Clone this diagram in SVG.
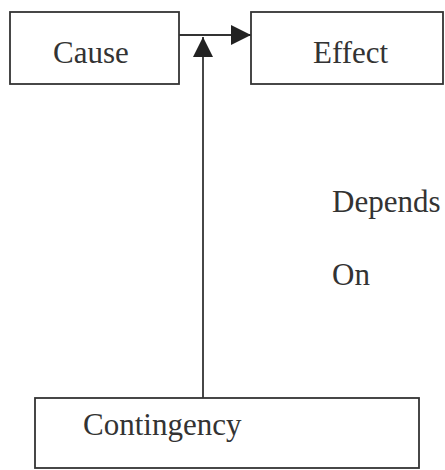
<svg xmlns="http://www.w3.org/2000/svg" width="445" height="470" viewBox="0 0 445 470">
<style>
.box{fill:#fff;stroke:#333;stroke-width:1.8}
.t{font-family:"Liberation Serif","Times New Roman",serif;font-size:31px;fill:#333}
.ln{stroke:#333;stroke-width:1.8;fill:none}
</style>
<defs>
<marker id="ah" viewBox="0 0 20 20" refX="20" refY="10" markerWidth="20" markerHeight="20" markerUnits="userSpaceOnUse" orient="auto">
<path d="M0,0 L20,10 L0,20 Z" fill="#222"/>
</marker>
</defs>
<rect width="445" height="470" fill="#fff"/>
<g id="connectors">
<line class="ln" x1="179" y1="35" x2="251" y2="35" marker-end="url(#ah)"/>
<line class="ln" x1="203" y1="398" x2="203" y2="37" marker-end="url(#ah)"/>
</g>
<g id="cause">
<rect class="box" x="10" y="12" width="169" height="72"/>
<text class="t" x="53" y="63">Cause</text>
</g>
<g id="effect">
<rect class="box" x="251" y="12" width="192" height="72"/>
<text class="t" x="313" y="63">Effect</text>
</g>
<g id="contingency">
<rect class="box" x="35" y="398" width="384" height="70"/>
<text class="t" x="83" y="435">Contingency</text>
</g>
<g id="label">
<text class="t" x="332" y="212">Depends</text>
<text class="t" x="332" y="285">On</text>
</g>
</svg>
